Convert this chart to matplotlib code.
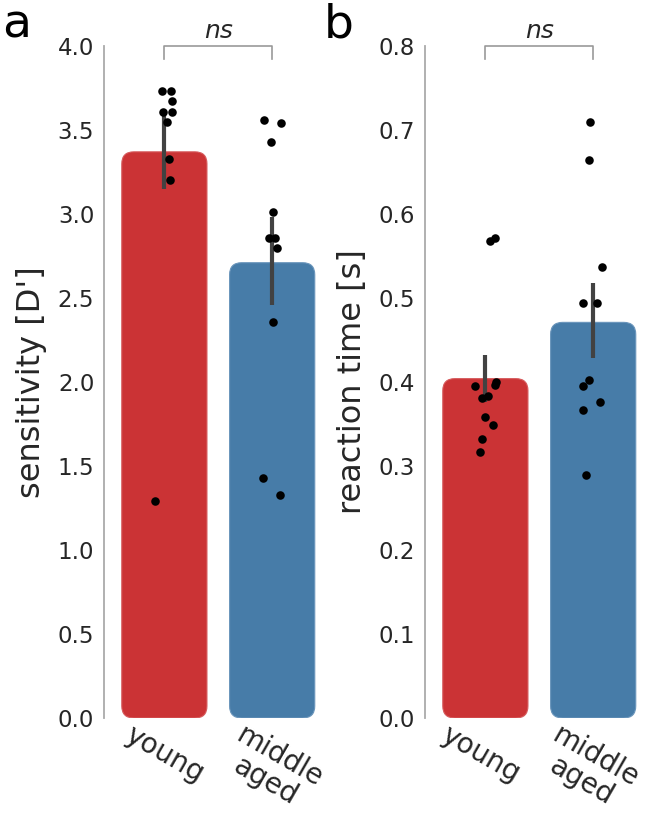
import numpy as np
import matplotlib
matplotlib.use("Agg")
import matplotlib.pyplot as plt
import matplotlib.transforms as mtransforms
from matplotlib.patches import FancyBboxPatch

# groups and colours
groups = ["young", "middle\naged"]
colors = ["#cb3335", "#477ca8"]
edge_colors = ["#d65a5c", "#6a95bb"]

# panel a: sensitivity
sens_mean = [3.37, 2.71]
sens_ci_low = [3.15, 2.46]
sens_ci_high = [3.59, 2.98]
sens_young = [3.73, 3.73, 3.67, 3.61, 3.61, 3.55, 3.33, 3.20, 1.29]
sens_middle = [3.56, 3.54, 3.43, 3.01, 2.86, 2.86, 2.80, 2.36, 1.43, 1.33]
sens_young_jit = [-0.02, 0.065, 0.074, -0.01, 0.074, 0.02, 0.04, 0.055, -0.083]
sens_middle_jit = [-0.074, 0.083, -0.01, 0.01, -0.03, 0.03, 0.046, 0.01, -0.083, 0.074]

# panel b: reaction time
rt_mean = [0.404, 0.471]
rt_ci_low = [0.376, 0.429]
rt_ci_high = [0.432, 0.518]
rt_young = [0.395, 0.400, 0.396, 0.381, 0.383, 0.358, 0.349, 0.332, 0.317, 0.568, 0.571]
rt_middle = [0.710, 0.664, 0.537, 0.494, 0.494, 0.402, 0.395, 0.376, 0.367, 0.289]
rt_young_jit = [-0.10, 0.094, 0.085, -0.03, 0.02, 0.0, 0.075, -0.03, -0.047, 0.047, 0.085]
rt_middle_jit = [-0.03, -0.04, 0.085, -0.094, 0.04, -0.04, -0.094, 0.066, -0.094, -0.066]

W, H = 646, 817
fig = plt.figure(figsize=(W / 100, H / 100), dpi=100)
ax1 = fig.add_axes([104 / W, 99 / H, 221 / W, 672 / H])
ax2 = fig.add_axes([425 / W, 99 / H, 221 / W, 672 / H])

txt = "#262626"


def panel(ax, means, lo, hi, pts, jits, ymax, yticks, ylabel, letter, lx):
    ax.set_xlim(-0.56, 1.49)
    ax.set_ylim(0, ymax)
    for s in ["top", "right", "bottom"]:
        ax.spines[s].set_visible(False)
    ax.spines["left"].set_color("#aaaaaa")
    ax.spines["left"].set_linewidth(1.3)

    # rounded bars
    bb = ax.get_window_extent()
    ppx = bb.width / (1.49 + 0.56)
    ppy = bb.height / ymax
    r = 12 / ppx
    w = 0.79
    for i, m in enumerate(means):
        p = FancyBboxPatch((i - w / 2, 0), w, m,
                           boxstyle="round,pad=0,rounding_size=%f" % r,
                           mutation_aspect=ppx / ppy,
                           fc=colors[i], ec=edge_colors[i], lw=0.8, zorder=1)
        ax.add_patch(p)
        ax.plot([i, i], [lo[i], hi[i]], color="#424242", lw=3, zorder=2,
                solid_capstyle="butt")
        ax.scatter(np.array(jits[i]) + i, pts[i], s=38, color="black",
                   zorder=3, linewidths=0)

    ax.set_xticks([0, 1])
    ax.set_xticklabels(groups, rotation=-30, fontsize=20, color=txt,
                       linespacing=1.0)
    ax.set_yticks(yticks)
    ax.set_yticklabels(["%.1f" % t for t in yticks], fontsize=16.5, color=txt)
    ax.tick_params(axis="y", length=0, pad=7)
    ax.tick_params(axis="x", length=0, pad=2)
    ax.set_ylabel(ylabel, fontsize=23, color=txt, labelpad=8)

    # significance bracket
    d = 13 / ppy
    ax.plot([0, 0, 1, 1], [ymax - d, ymax, ymax, ymax - d], color="#999999",
            lw=1.2, clip_on=False)
    ax.text(0.5, ymax + 3 / ppy, "ns", style="italic", fontsize=18,
            ha="center", va="bottom", color=txt)
    fig.text(lx, 1 - 38 / H, letter, fontsize=34, color="black",
             ha="left", va="baseline")


panel(ax1, sens_mean, sens_ci_low, sens_ci_high, [sens_young, sens_middle],
      [sens_young_jit, sens_middle_jit], 4.0, np.arange(0, 4.01, 0.5),
      "sensitivity [D']", "a", 2 / W)
panel(ax2, rt_mean, rt_ci_low, rt_ci_high, [rt_young, rt_middle],
      [rt_young_jit, rt_middle_jit], 0.8, np.arange(0, 0.801, 0.1),
      "reaction time [s]", "b", 324 / W)

# keep the right-most label inside the figure
shift = mtransforms.ScaledTranslation(-5 / 100, 0, fig.dpi_scale_trans)
for lab in ax2.get_xticklabels():
    lab.set_transform(lab.get_transform() + shift)

fig.savefig("out.png", dpi=100)
